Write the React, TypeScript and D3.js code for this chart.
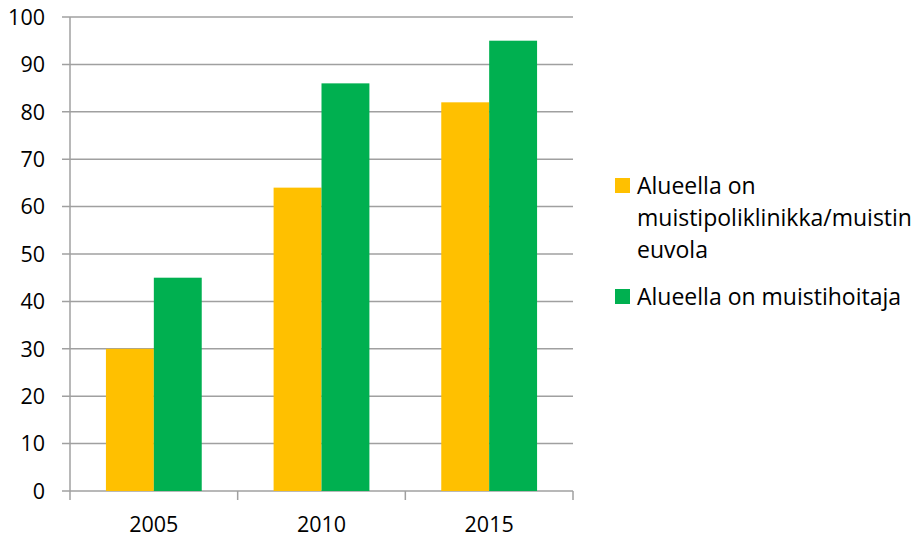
import React from "react";
import * as d3 from "d3";

const categories = ["2005", "2010", "2015"];
const seriesNames = ["Alueella on muistipoliklinikka/muistineuvola", "Alueella on muistihoitaja"];
const seriesA = [30, 64, 82];
const seriesB = [45, 86, 95];
const yTicks = [0, 10, 20, 30, 40, 50, 60, 70, 80, 90, 100];
const colors = ["#FFC000", "#00B050"];

export default function App() {
  const W = 916, H = 540;
  const left = 70, right = 573, top = 17, bottom = 491;
  const x = d3.scaleBand<string>().domain(categories).range([left, right]).paddingInner(0).paddingOuter(0);
  const y = d3.scaleLinear().domain([0, 100]).range([bottom, top]);
  const font = "'Open Sans', sans-serif";
  const series = [seriesA, seriesB];
  const bw = x.bandwidth();
  const barW = bw * 0.2857;
  const off = (bw - 2 * barW) / 2;
  return (
    <svg width={W} height={H} style={{ position: "absolute", left: 0, top: 0, background: "#fff" }} fontFamily={font}>
      {yTicks.map((t) => (
        <g key={t}>
          <line x1={62} x2={right} y1={y(t)} y2={y(t)} stroke="#a0a0a0" strokeWidth={1.5} />
          <text x={45} y={y(t)} dy="0.36em" textAnchor="end" fontSize={21.5} fill="#000">{t}</text>
        </g>
      ))}
      {categories.map((c, i) => (
        <g key={c}>
          {series.map((s, j) => (
            <rect key={j} x={(x(c) as number) + off + j * barW} y={y(s[i])} width={barW} height={y(0) - y(s[i])} fill={colors[j]} />
          ))}
          <text x={(x(c) as number) + bw / 2} y={532} textAnchor="middle" fontSize={21.5} fill="#000">{c}</text>
        </g>
      ))}
      <line x1={left} x2={left} y1={top} y2={bottom} stroke="#a0a0a0" strokeWidth={1.5} />
      {[...categories.map((c) => x(c) as number), right].map((v, i) => (
        <line key={i} x1={v} x2={v} y1={bottom} y2={500} stroke="#a0a0a0" strokeWidth={1.5} />
      ))}
      <rect x={615} y={178} width={15} height={15} fill={colors[0]} />
      <text fontSize={23} fill="#000">
        <tspan x={637} y={194}>Alueella on</tspan>
        <tspan x={637} y={226}>muistipoliklinikka/muistin</tspan>
        <tspan x={637} y={258}>euvola</tspan>
      </text>
      <rect x={615} y={289} width={15} height={15} fill={colors[1]} />
      <text x={637} y={305} fontSize={23} fill="#000">{seriesNames[1]}</text>
    </svg>
  );
}
